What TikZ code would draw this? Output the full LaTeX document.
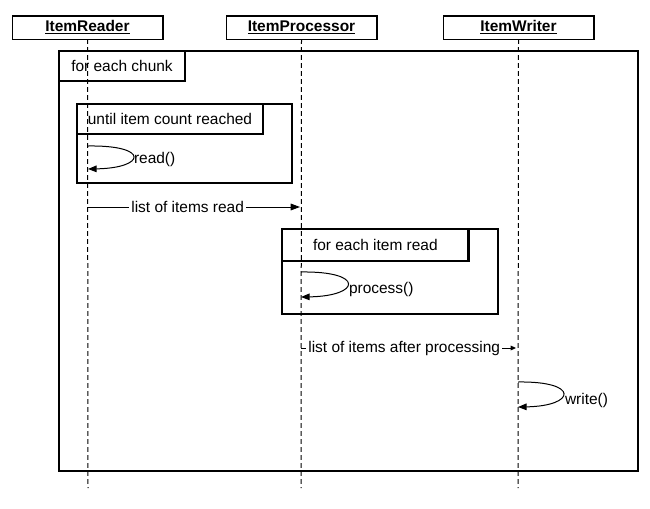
\documentclass[tikz,border=0pt]{standalone}
\usepackage{fontspec}
\setmainfont{Liberation Sans}
\usetikzlibrary{arrows.meta}
\begin{document}
\begin{tikzpicture}[x=0.75pt,y=-0.75pt,
  every node/.style={font=\fontsize{11.6}{13}\selectfont, inner sep=0pt, outer sep=0pt},
  header/.style={draw, line width=1pt, minimum width=113pt, minimum height=17.5pt, font=\fontsize{11.6}{13}\selectfont\bfseries},
  lifeline/.style={line width=0.75pt, dash pattern=on 3.5pt off 2.5pt},
  frame/.style={draw, line width=2pt},
  framelabel/.style={draw, line width=2pt, anchor=north west},
  msg/.style={line width=0.75pt, -{Triangle[length=7pt,width=5pt]}},
  smallmsg/.style={line width=0.75pt, -{Triangle[length=4pt,width=3.5pt]}},
  selfmsg/.style={line width=0.75pt, -{Triangle[length=6.5pt,width=5pt]}},
  msglabel/.style={fill=white, inner xsep=1.5pt, inner ysep=1pt}
]
\useasboundingbox (0,0) rectangle (650,508);

% headers
\node[header] (reader) at (87.5,27.5) {\underline{ItemReader}};
\node[header] (proc) at (301.5,27.5) {\underline{ItemProcessor}};
\node[header] (writer) at (518.5,27.5) {\underline{ItemWriter}};

% lifeline ends
\coordinate (readerEnd) at (88,488);
\coordinate (procEnd) at (301,488);
\coordinate (writerEnd) at (518,488);

% outer frame
\draw[frame] (59,51) rectangle (638,471);
\node[framelabel, minimum width=94.5pt, minimum height=22.5pt] (chunk) at (59,51) {for each chunk};

% until frame
\draw[frame] (77,104) rectangle (292,183);
\node[framelabel, minimum width=139.5pt, minimum height=22.5pt] (until) at (77,104) {until item count reached};

% for each item frame
\draw[frame] (282,229) rectangle (498,314);
\node[framelabel, minimum width=140pt, minimum height=24pt] (eachitem) at (282,229) {for each item read};

% lifelines
\draw[lifeline] (reader.south) -- (readerEnd);
\draw[lifeline] (proc.south) -- (procEnd);
\draw[lifeline] (writer.south) -- (writerEnd);

% read()
\coordinate (r1) at (88,146);
\coordinate (r2) at (88,169);
\draw[selfmsg] (r1) .. controls (150,145) and (146,168) .. (r2);
\node[anchor=west] (readlbl) at (134,159) {read()};

% list of items read
\coordinate (m1s) at (88,207);
\coordinate (m1e) at (300,207);
\draw[msg] (m1s) -- node[msglabel, pos=0.47] (m1lbl) {list of items read} (m1e);

% process()
\coordinate (p1) at (301,272);
\coordinate (p2) at (301,297);
\draw[selfmsg] (p1) .. controls (365,271) and (361,296) .. (p2);
\node[anchor=west] (proclbl) at (349,289) {process()};

% list of items after processing
\coordinate (m2s) at (301,348);
\coordinate (m2e) at (516,348);
\draw[smallmsg] (m2s) -- node[msglabel, pos=0.48] (m2lbl) {list of items after processing} (m2e);

% write()
\coordinate (w1) at (518,382);
\coordinate (w2) at (518,407);
\draw[selfmsg] (w1) .. controls (580,381) and (576,406) .. (w2);
\node[anchor=west] (writelbl) at (565,400) {write()};
\end{tikzpicture}
\end{document}
